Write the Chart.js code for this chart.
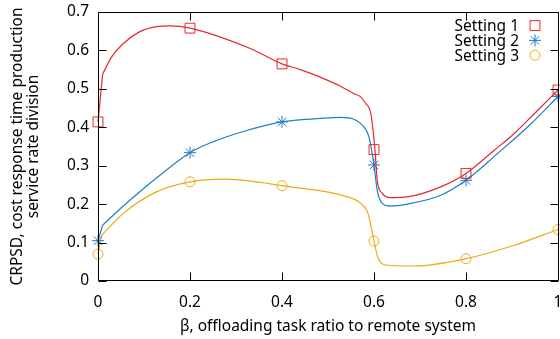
<!DOCTYPE html>
<html>
<head>
<meta charset="utf-8">
<script src="https://cdn.jsdelivr.net/npm/chart.js@4.4.1/dist/chart.umd.min.js"></script>
<style>
body{margin:0;background:#fff;overflow:hidden;}
#mycanvas{display:block;}
</style>
</head>
<body>
<canvas id="mycanvas" width="560" height="339"></canvas>
<script>
var betaPoints = [0, 0.2, 0.4, 0.6, 0.8, 1];
var setting1 = [0.414, 0.658, 0.565, 0.342, 0.28, 0.497];
var setting2 = [0.105, 0.334, 0.414, 0.302, 0.262, 0.48];
var setting3 = [0.07, 0.258, 0.248, 0.104, 0.058, 0.134];

// points (first point = where the steep start bends)
var curve1X = [0.01, 0.029, 0.055, 0.091, 0.127, 0.156, 0.2, 0.331, 0.4, 0.44, 0.484, 0.527, 0.556, 0.571, 0.582, 0.593, 0.602, 0.607, 0.618, 0.636, 0.673, 0.745, 0.8, 0.862, 0.905, 0.949, 1];
var curve1Y = [0.538, 0.582, 0.618, 0.649, 0.662, 0.664, 0.658, 0.605, 0.565, 0.55, 0.53, 0.507, 0.488, 0.479, 0.462, 0.436, 0.342, 0.262, 0.228, 0.217, 0.219, 0.245, 0.28, 0.341, 0.384, 0.436, 0.497];
var curve2X = [0.01, 0.055, 0.127, 0.2, 0.25, 0.316, 0.4, 0.484, 0.527, 0.556, 0.578, 0.589, 0.6, 0.607, 0.618, 0.636, 0.673, 0.745, 0.8, 0.869, 0.942, 1];
var curve2Y = [0.145, 0.195, 0.268, 0.334, 0.362, 0.389, 0.414, 0.423, 0.426, 0.421, 0.401, 0.375, 0.302, 0.236, 0.202, 0.195, 0.2, 0.223, 0.262, 0.332, 0.41, 0.48];
var curve3X = [0.008, 0.055, 0.127, 0.2, 0.273, 0.345, 0.4, 0.542, 0.571, 0.587, 0.6, 0.609, 0.629, 0.687, 0.8, 0.905, 1];
var curve3Y = [0.119, 0.176, 0.232, 0.258, 0.265, 0.258, 0.248, 0.219, 0.202, 0.176, 0.104, 0.059, 0.041, 0.039, 0.058, 0.093, 0.134];

var xTickLabels = ['0', '0.2', '0.4', '0.6', '0.8', '1'];
var yTickValues = [0, 0.1, 0.2, 0.3, 0.4, 0.5, 0.6, 0.7];
var yTickLabels = ['0', '0.1', '0.2', '0.3', '0.4', '0.5', '0.6', '0.7'];
var seriesNames = ['Setting 1', 'Setting 2', 'Setting 3'];
var colors = ['#e8282a', '#1f7fc4', '#eeaa18'];
var markers = ['rect', 'star', 'circle'];
var markerSize = [7, 6, 5];

var fontFamily = '"Noto Sans", sans-serif';

function pts(xs, ys){
	var out = [];
	for (var i in xs) {
		out.push({x: xs[i], y: ys[i]});
	}
	return out;
}

var curves = [pts(curve1X, curve1Y), pts(curve2X, curve2Y), pts(curve3X, curve3Y)];
var marks = [pts(betaPoints, setting1), pts(betaPoints, setting2), pts(betaPoints, setting3)];

var datasets = [];
for (var k = 0; k < 3; k++) {
	// straight start from the first marker to the bend
	datasets.push({
		label: seriesNames[k] + ' start',
		data: [marks[k][0], curves[k][0]],
		showLine: true,
		borderColor: colors[k],
		borderWidth: 1.2,
		pointRadius: 0,
		tension: 0,
		clip: false
	});
	datasets.push({
		label: seriesNames[k],
		data: curves[k],
		showLine: true,
		borderColor: colors[k],
		borderWidth: 1.2,
		pointRadius: 0,
		cubicInterpolationMode: 'monotone',
		clip: false
	});
	datasets.push({
		label: seriesNames[k] + ' points',
		data: marks[k],
		showLine: false,
		pointStyle: markers[k],
		pointRadius: markerSize[k],
		pointBorderColor: colors[k],
		pointBackgroundColor: 'rgba(0,0,0,0)',
		pointBorderWidth: 1,
		clip: false
	});
}

var framePlugin = {
	id: 'gnuFrame',
	afterDatasetsDraw: function(chart){
		var a = chart.chartArea, ctx = chart.ctx;
		var xs = chart.scales.x, ys = chart.scales.y;
		var l = a.left + 0.5, r = a.right + 0.5, t = a.top + 0.5, b = a.bottom - 0.5;
		ctx.save();
		ctx.strokeStyle = '#000';
		ctx.lineWidth = 1;
		ctx.beginPath();
		ctx.rect(l, t, r - l, b - t);
		for (var i in betaPoints) {
			var px = Math.round(xs.getPixelForValue(betaPoints[i])) + 0.5;
			ctx.moveTo(px, b); ctx.lineTo(px, b - 8);
			ctx.moveTo(px, t); ctx.lineTo(px, t + 8);
		}
		for (var j in yTickValues) {
			var py = Math.round(ys.getPixelForValue(yTickValues[j])) + 0.5;
			ctx.moveTo(l, py); ctx.lineTo(l + 8, py);
			ctx.moveTo(r, py); ctx.lineTo(r - 8, py);
		}
		ctx.stroke();
		ctx.restore();
	},
	afterDraw: function(chart){
		var ctx = chart.ctx;
		ctx.save();
		ctx.font = '15.5px ' + fontFamily;
		ctx.textAlign = 'right';
		ctx.textBaseline = 'middle';
		for (var i = 0; i < 3; i++) {
			var y = 25.6 + i * 14.8;
			ctx.fillStyle = '#000';
			ctx.fillText(seriesNames[i], 519, y + 1.3);
			ctx.fillStyle = 'rgba(0,0,0,0)';
			ctx.strokeStyle = colors[i];
			ctx.lineWidth = 1;
			Chart.helpers.drawPoint(ctx, {pointStyle: markers[i], radius: markerSize[i], rotation: 0, borderWidth: 1}, 535, y);
		}
		ctx.restore();
	}
};

var ctx = document.getElementById('mycanvas');
var chart = new Chart(ctx, {
	type: 'scatter',
	data: {datasets: datasets},
	options: {
		responsive: false,
		animation: false,
		devicePixelRatio: 1,
		layout: {autoPadding: false, padding: {top: 12, right: 2, left: 0, bottom: 0}},
		plugins: {legend: {display: false}, tooltip: {enabled: false}},
		scales: {
			x: {
				type: 'linear',
				min: 0,
				max: 1,
				grid: {display: false, drawTicks: false},
				border: {display: false},
				afterBuildTicks: function(s){
					s.ticks = betaPoints.map(function(v){ return {value: v}; });
				},
				afterFit: function(s){
					s.height = 58;
					s.paddingLeft = 0;
					s.paddingRight = 0;
				},
				ticks: {
					color: '#000',
					padding: 12,
					maxRotation: 0,
					autoSkip: false,
					font: {family: fontFamily, size: 15.5},
					callback: function(v, i){ return xTickLabels[i]; }
				},
				title: {
					display: true,
					text: 'β, offloading task ratio to remote system',
					color: '#000',
					font: {family: fontFamily, size: 15.5, lineHeight: '16px'},
					padding: {top: 0, bottom: 4}
				}
			},
			y: {
				type: 'linear',
				min: 0,
				max: 0.7,
				grid: {display: false, drawTicks: false},
				border: {display: false},
				afterBuildTicks: function(s){
					s.ticks = yTickValues.map(function(v){ return {value: v}; });
				},
				afterFit: function(s){
					s.width = 98;
					s.paddingTop = 0;
					s.paddingBottom = 0;
				},
				ticks: {
					color: '#000',
					padding: 9,
					autoSkip: false,
					font: {family: fontFamily, size: 15.5},
					callback: function(v, i){ return yTickLabels[i]; }
				},
				title: {
					display: true,
					text: ['CRPSD, cost response time production', 'service rate division'],
					color: '#000',
					font: {family: fontFamily, size: 15.5, lineHeight: '16px'},
					padding: {top: 10, bottom: 0}
				}
			}
		}
	},
	plugins: [framePlugin]
});
</script>
</body>
</html>
